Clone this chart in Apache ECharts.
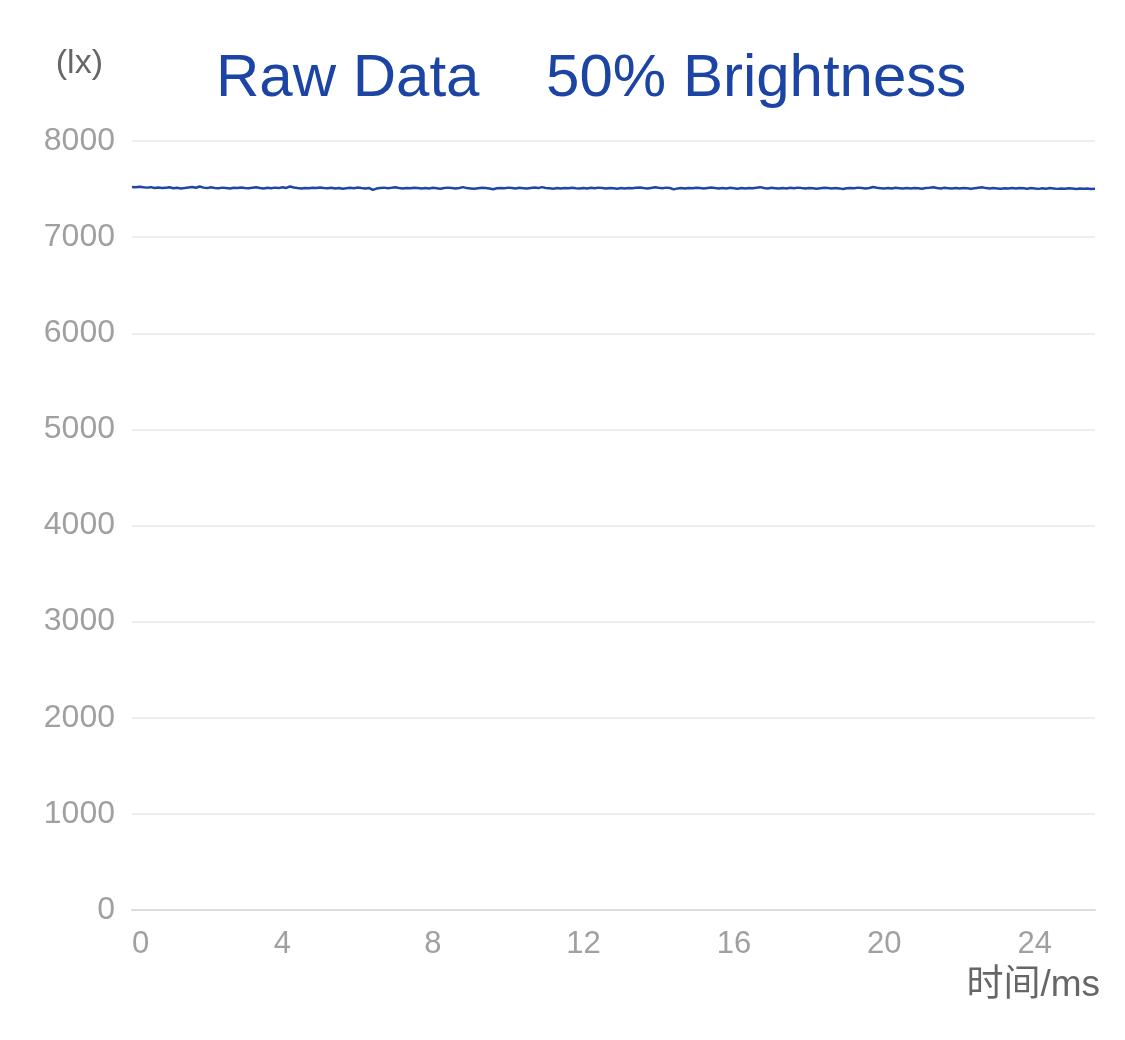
<!DOCTYPE html>
<html>
<head>
<meta charset="utf-8">
<script src="https://cdn.jsdelivr.net/npm/echarts@6/dist/echarts.min.js"></script>
<style>
html,body{margin:0;padding:0;background:#fff;}
#chart{width:1125px;height:1040px;}
</style>
</head>
<body>
<div id="chart"></div>
<script>
// Sample step (ms) and illuminance readings (lx)
var sampleStepMs = 0.1;
var luxValues = [
7522,7518,7524,7519,7515,7520,7512,7516,7510,7514,7518,7509,7513,7507,7511,7516,7521,7514,7526,7515,7510,7518,7512,7509,7515,7511,
7507,7513,7510,7517,7512,7508,7514,7519,7511,7506,7513,7509,7515,7510,7518,7512,7527,7516,7510,7505,7512,7508,7514,7510,7517,7512,
7509,7514,7506,7511,7503,7508,7513,7509,7516,7511,7507,7512,7492,7505,7510,7515,7509,7513,7518,7511,7507,7512,7508,7514,7510,7506,
7511,7507,7513,7509,7504,7510,7515,7511,7506,7512,7520,7510,7507,7503,7509,7514,7510,7506,7498,7508,7512,7509,7515,7511,7507,7513,
7509,7505,7511,7516,7510,7520,7512,7508,7504,7510,7506,7512,7508,7514,7509,7505,7511,7507,7513,7509,7515,7511,7507,7512,7508,7504,
7510,7506,7512,7508,7514,7517,7510,7506,7512,7518,7513,7509,7515,7511,7497,7507,7511,7506,7512,7508,7514,7510,7506,7512,7516,7510,
7505,7511,7507,7513,7509,7504,7510,7506,7512,7508,7514,7520,7511,7507,7513,7509,7505,7511,7507,7513,7509,7515,7510,7506,7512,7508,
7503,7509,7514,7510,7506,7511,7507,7500,7508,7512,7509,7515,7511,7507,7512,7521,7513,7509,7505,7511,7507,7513,7509,7505,7511,7507,
7512,7508,7504,7510,7514,7519,7511,7507,7513,7509,7505,7511,7507,7512,7508,7504,7509,7514,7518,7510,7506,7511,7507,7503,7509,7505,
7510,7506,7512,7508,7504,7510,7506,7502,7508,7504,7510,7506,7502,7507,7503,7509,7505,7501,7507,7503,7505,7501,7503
];
var xTicks = [0, 4, 8, 12, 16, 20, 24];
var yTicks = [0, 1000, 2000, 3000, 4000, 5000, 6000, 7000, 8000];
var titleText = 'Raw Data    50% Brightness';
var yName = '(lx)';
var xName = '时间/ms';

var seriesData = luxValues.map(function (v, i) {
  return [+(i * sampleStepMs).toFixed(2), v];
});
var xMax = +((luxValues.length - 1) * sampleStepMs).toFixed(2);

var chart = echarts.init(document.getElementById('chart'), null, {renderer: 'canvas'});
chart.setOption({
  animation: false,
  backgroundColor: '#ffffff',
  title: {
    text: titleText,
    left: 211,
    top: 44,
    textStyle: {
      color: '#1c44a4',
      fontSize: 60,
      fontWeight: 'normal',
      fontFamily: 'Liberation Sans, Arial, sans-serif'
    }
  },
  grid: {left: 132, right: 30, top: 141, bottom: 130, containLabel: false},
  xAxis: {
    type: 'value',
    min: 0,
    max: xMax,
    interval: xTicks[1] - xTicks[0],
    name: xName,
    nameLocation: 'end',
    nameGap: 5,
    nameTextStyle: {
      color: '#666666',
      fontSize: 37,
      align: 'right',
      verticalAlign: 'top',
      padding: [57, 0, 0, 0],
      fontFamily: 'Liberation Sans, Noto Sans CJK SC, sans-serif'
    },
    axisLine: {show: true, lineStyle: {color: '#dddddd', width: 2}},
    axisTick: {show: false},
    splitLine: {show: false},
    axisLabel: {
      color: '#a0a0a0',
      fontSize: 31,
      margin: 19,
      showMaxLabel: false,
      alignMinLabel: 'left',
      formatter: function (v) { return String(v); },
      fontFamily: 'Liberation Sans, Arial, sans-serif'
    }
  },
  yAxis: {
    type: 'value',
    min: yTicks[0],
    max: yTicks[yTicks.length - 1],
    interval: yTicks[1] - yTicks[0],
    name: yName,
    nameLocation: 'end',
    nameGap: 60,
    nameTextStyle: {
      color: '#666666',
      fontSize: 34,
      align: 'right',
      padding: [0, 29, 0, 0],
      fontFamily: 'Liberation Sans, Arial, sans-serif'
    },
    axisLine: {show: false},
    axisTick: {show: false},
    splitLine: {show: true, lineStyle: {color: '#eeeeee', width: 2}},
    axisLabel: {
      color: '#a0a0a0',
      fontSize: 32,
      margin: 17,
      formatter: function (v) { return String(v); },
      fontFamily: 'Liberation Sans, Arial, sans-serif'
    }
  },
  series: [{
    type: 'line',
    data: seriesData,
    showSymbol: false,
    symbol: 'none',
    lineStyle: {color: '#1e46a8', width: 2.5},
    emphasis: {disabled: true}
  }]
});
</script>
</body>
</html>
